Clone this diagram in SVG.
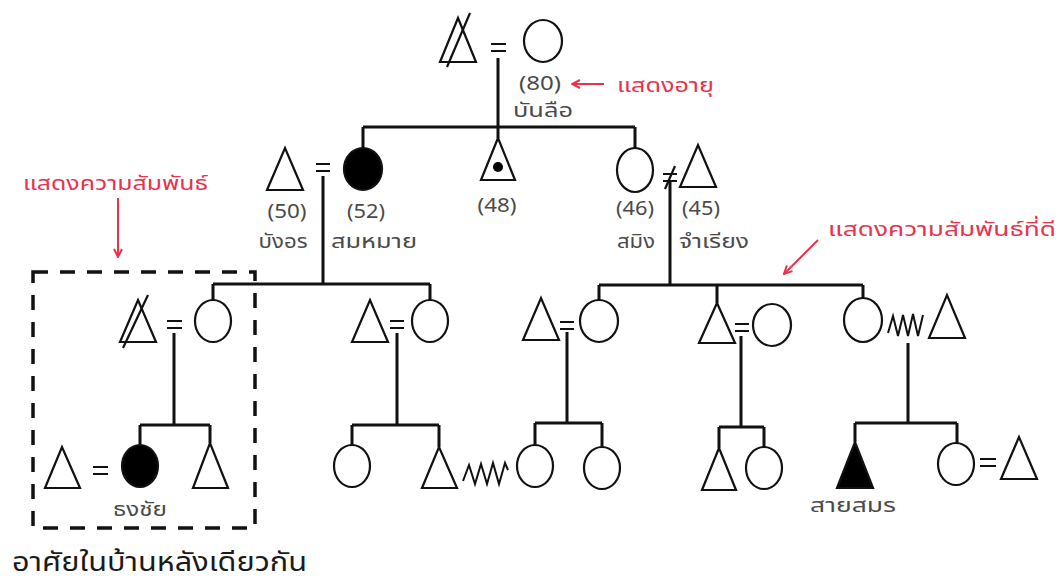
<svg xmlns="http://www.w3.org/2000/svg" width="1061" height="584" viewBox="0 0 1061 584">
<style>
.bg{fill:#ffffff}
.sym{fill:#ffffff;stroke:#111;stroke-width:2.2;stroke-linejoin:miter}
.fill{fill:#000;stroke:#111;stroke-width:2.2}
.ln{fill:none;stroke:#111;stroke-width:3;stroke-linecap:butt}
.eq{fill:none;stroke:#111;stroke-width:2.2}
.zz{fill:none;stroke:#111;stroke-width:2;stroke-linejoin:miter}
.lab{font-family:'Noto Sans Thai','Noto Sans','DejaVu Sans',sans-serif;font-size:19px;fill:#4a4a4a;text-anchor:middle}
.red{font-family:'Noto Sans Thai','Noto Sans','DejaVu Sans',sans-serif;font-size:20px;fill:#e8334d}
.rarr{fill:none;stroke:#e8334d;stroke-width:2}
.big{font-family:'Noto Sans Thai','Noto Sans','DejaVu Sans',sans-serif;font-size:26px;fill:#1a1a1a}
.box{fill:none;stroke:#111;stroke-width:3.5;stroke-dasharray:15 12}
</style>
<defs>
<marker id="ah" viewBox="0 0 10 10" refX="9" refY="5" markerWidth="10" markerHeight="10" markerUnits="userSpaceOnUse" orient="auto">
<path d="M1,1 L9,5 L1,9" fill="none" stroke="#e8334d" stroke-width="2"/>
</marker>
</defs>
<rect class="bg" x="0" y="0" width="1061" height="584"/>

<g id="connectors">
<path class="ln" d="M498,58 V127 M363,127 H635 M363,127 V148 M498,127 V138 M635,127 V148"/>
<path class="ln" d="M323,176 V284 M213,284 H430 M213,284 V300 M430,284 V300"/>
<path class="ln" d="M670,180 V285 M599,285 H863 M599,285 V300 M717,285 V303 M863,285 V298"/>
<path class="ln" d="M174,333 V425 M140,425 H210 M140,425 V445 M210,425 V443"/>
<path class="ln" d="M397,333 V425 M352,425 H439 M352,425 V445 M439,425 V447"/>
<path class="ln" d="M567,332 V423 M535,423 H602 M535,423 V445 M602,423 V447"/>
<path class="ln" d="M741,336 V427 M719,427 H764 M719,427 V448 M764,427 V447"/>
<path class="ln" d="M908,343 V423 M855,423 H957 M855,423 V442 M957,423 V443"/>
</g>

<g id="gen1-father">
<polygon class="sym" points="440,62 458,18 476,62"/>
<line class="eq" x1="447" y1="67" x2="470" y2="13"/>
</g>
<g id="gen1-marriage"><path class="eq" d="M491,44 H506 M491,51 H506"/></g>
<g id="gen1-mother">
<ellipse class="sym" cx="543" cy="41" rx="19" ry="21"/>
<text class="lab" x="540" y="90" textLength="42" lengthAdjust="spacingAndGlyphs">(80)</text>
<text class="lab" x="543" y="117" textLength="60" lengthAdjust="spacingAndGlyphs">บันลือ</text>
</g>
<g id="note-age">
<line class="rarr" x1="604" y1="84" x2="572" y2="84" marker-end="url(#ah)"/>
<text class="red" x="617" y="92" textLength="97" lengthAdjust="spacingAndGlyphs">แสดงอายุ</text>
</g>

<g id="gen2-bangorn">
<polygon class="sym" points="267,190 285,148 303,190"/>
<text class="lab" x="287" y="218" textLength="39" lengthAdjust="spacingAndGlyphs">(50)</text>
<text class="lab" x="283" y="248" textLength="49" lengthAdjust="spacingAndGlyphs">บังอร</text>
</g>
<g id="gen2-marriage1"><path class="eq" d="M316,164 H330 M316,171 H330"/></g>
<g id="gen2-sommai">
<ellipse class="fill" cx="363" cy="169" rx="19" ry="21"/>
<text class="lab" x="366" y="218" textLength="38" lengthAdjust="spacingAndGlyphs">(52)</text>
<text class="lab" x="374" y="248" textLength="86" lengthAdjust="spacingAndGlyphs">สมหมาย</text>
</g>
<g id="gen2-son">
<polygon class="sym" points="481,180 498,138 515,180"/>
<circle cx="498" cy="167" r="5" fill="#000"/>
<text class="lab" x="497" y="212" textLength="39" lengthAdjust="spacingAndGlyphs">(48)</text>
</g>
<g id="gen2-saming">
<ellipse class="sym" cx="635" cy="170" rx="18" ry="22"/>
<text class="lab" x="635" y="215" textLength="38" lengthAdjust="spacingAndGlyphs">(46)</text>
<text class="lab" x="636" y="248" textLength="38" lengthAdjust="spacingAndGlyphs">สมิง</text>
</g>
<g id="gen2-divorce"><path class="eq" d="M663,174 H677 M663,181 H677 M665,189 L675,166"/></g>
<g id="gen2-chamriang">
<polygon class="sym" points="680,187 698,145 716,187"/>
<text class="lab" x="701" y="215" textLength="38" lengthAdjust="spacingAndGlyphs">(45)</text>
<text class="lab" x="714" y="248" textLength="70" lengthAdjust="spacingAndGlyphs">จำเรียง</text>
</g>

<g id="note-relation">
<text class="red" x="23" y="190" textLength="185" lengthAdjust="spacingAndGlyphs">แสดงความสัมพันธ์</text>
<line class="rarr" x1="118" y1="198" x2="118" y2="257" marker-end="url(#ah)"/>
</g>
<g id="note-good">
<text class="red" x="828" y="236" textLength="228" lengthAdjust="spacingAndGlyphs">แสดงความสัมพันธ์ที่ดี</text>
<line class="rarr" x1="818" y1="240" x2="784" y2="274" marker-end="url(#ah)"/>
</g>

<g id="household">
<rect class="box" x="33" y="272" width="222" height="256"/>
<text class="big" x="12" y="571" textLength="295" lengthAdjust="spacingAndGlyphs">อาศัยในบ้านหลังเดียวกัน</text>
</g>

<g id="gen3-a-husband">
<polygon class="sym" points="120,342 138,300 156,342"/>
<line class="eq" x1="123" y1="348" x2="148" y2="295"/>
</g>
<g id="gen3-a-marriage"><path class="eq" d="M167,321 H182 M167,328 H182"/></g>
<g id="gen3-a-wife"><ellipse class="sym" cx="213" cy="321" rx="18" ry="21"/></g>

<g id="gen3-b-husband"><polygon class="sym" points="352,342 370,300 388,342"/></g>
<g id="gen3-b-marriage"><path class="eq" d="M390,321 H404 M390,328 H404"/></g>
<g id="gen3-b-wife"><ellipse class="sym" cx="430" cy="321" rx="18" ry="21"/></g>

<g id="gen3-c-husband"><polygon class="sym" points="523,340 541,298 559,340"/></g>
<g id="gen3-c-marriage"><path class="eq" d="M560,322 H574 M560,329 H574"/></g>
<g id="gen3-c-wife"><ellipse class="sym" cx="599" cy="321" rx="19" ry="21"/></g>

<g id="gen3-d-husband"><polygon class="sym" points="699,343 717,303 735,343"/></g>
<g id="gen3-d-marriage"><path class="eq" d="M735,324 H749 M735,331 H749"/></g>
<g id="gen3-d-wife"><ellipse class="sym" cx="772" cy="325" rx="19" ry="21"/></g>

<g id="gen3-e-wife"><ellipse class="sym" cx="863" cy="320" rx="19" ry="22"/></g>
<g id="gen3-e-conflict"><path class="zz" d="M888,333 L893,316 L898,336 L903,315 L908,336 L913,314 L918,336 L923,315"/></g>
<g id="gen3-e-husband"><polygon class="sym" points="929,338 947,295 965,338"/></g>

<g id="gen4-a-spouse"><polygon class="sym" points="45,488 62,447 80,488"/></g>
<g id="gen4-a-marriage"><path class="eq" d="M93,467 H108 M93,474 H108"/></g>
<g id="gen4-thongchai">
<ellipse class="fill" cx="140" cy="466" rx="18" ry="21"/>
<text class="lab" x="140" y="516" textLength="54" lengthAdjust="spacingAndGlyphs">ธงชัย</text>
</g>
<g id="gen4-a-brother"><polygon class="sym" points="193,488 210,443 228,488"/></g>

<g id="gen4-b-daughter"><ellipse class="sym" cx="352" cy="466" rx="18" ry="21"/></g>
<g id="gen4-b-son"><polygon class="sym" points="422,488 439,447 457,488"/></g>
<g id="gen4-b-conflict"><path class="zz" d="M463,481 L469,465 L475,484 L481,464 L487,484 L493,463 L499,484 L505,463 L508,470"/></g>

<g id="gen4-c-daughter1"><ellipse class="sym" cx="535" cy="466" rx="18" ry="21"/></g>
<g id="gen4-c-daughter2"><ellipse class="sym" cx="602" cy="468" rx="18" ry="21"/></g>

<g id="gen4-d-son"><polygon class="sym" points="702,490 719,448 736,490"/></g>
<g id="gen4-d-daughter"><ellipse class="sym" cx="764" cy="468" rx="18" ry="21"/></g>

<g id="gen4-saisamorn">
<polygon class="fill" points="837,488 855,442 873,488"/>
<text class="lab" x="853" y="512" textLength="86" lengthAdjust="spacingAndGlyphs">สายสมร</text>
</g>
<g id="gen4-e-daughter"><ellipse class="sym" cx="956" cy="464" rx="18" ry="21"/></g>
<g id="gen4-e-marriage"><path class="eq" d="M980,459 H996 M980,466 H996"/></g>
<g id="gen4-e-husband"><polygon class="sym" points="1001,479 1019,437 1037,479"/></g>
</svg>
